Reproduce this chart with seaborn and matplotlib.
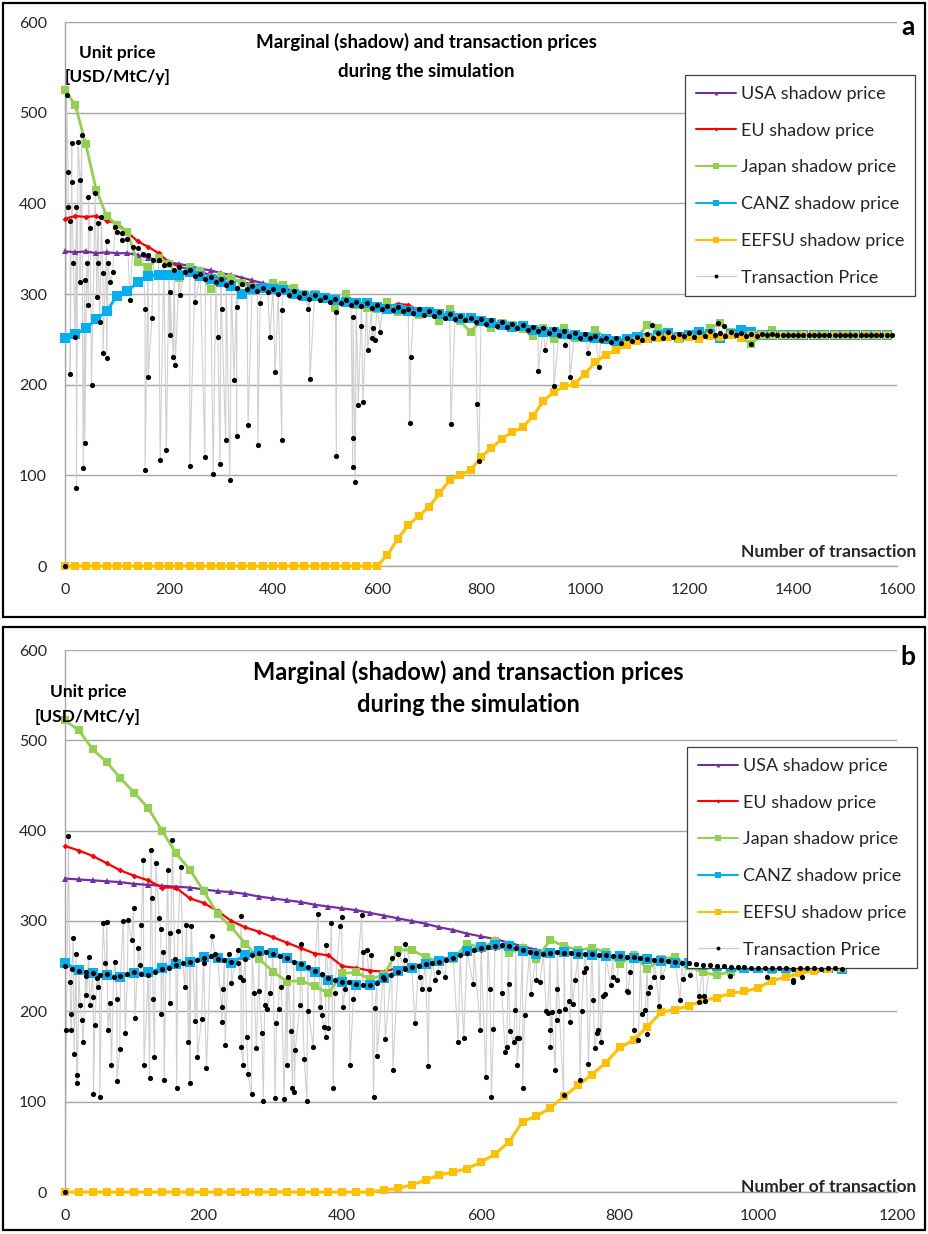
import numpy as np
import matplotlib
matplotlib.use("Agg")
import matplotlib.pyplot as plt
from matplotlib.lines import Line2D
from matplotlib.patches import Rectangle
import seaborn as sns

# ---------------- panel a : shadow prices (every 20 transactions) ----------------
x_a = np.arange(0, 1600, 20)
usa_a = [347, 346, 347, 345, 346, 345, 345, 343, 340, 337,
         335, 333, 331, 328, 326, 323, 321, 318, 315, 312,
         309, 306, 304, 301, 299, 296, 294, 292, 290, 289,
         287, 285, 284, 283, 281, 279, 278, 276, 274, 272,
         270, 268, 267, 265, 263, 262, 260, 259, 257, 256,
         255, 253, 251, 250, 250, 251, 253, 254, 254, 255] + [255] * 20
eu_a = [383, 386, 385, 386, 381, 378, 368, 358, 352, 345,
        335, 330, 327, 324, 321, 318, 316, 313, 311, 309,
        307, 305, 303, 301, 299, 296, 294, 292, 290, 289,
        287, 286, 289, 288, 282, 279, 278, 276, 274, 272,
        270, 268, 267, 265, 263, 262, 260, 259, 257, 256,
        255, 253, 251, 250, 250, 251, 253, 254, 254, 255] + [255] * 20
japan_a = [525, 508, 465, 415, 386, 376, 368, 335, 330, 340,
           333, 318, 330, 325, 305, 320, 318, 312, 308, 306,
           312, 310, 307, 300, 300, 296, 285, 300, 288, 285,
           283, 291, 280, 282, 277, 280, 270, 283, 270, 258,
           271, 262, 268, 266, 261, 254, 263, 250, 262, 252,
           253, 260, 252, 249, 250, 252, 266, 262, 256, 250,
           256, 253, 262, 268, 258, 252, 245, 255, 260, 255] + [255] * 10
canz_a = [252, 256, 262, 272, 281, 298, 303, 313, 320, 321,
          321, 321, 324, 320, 316, 313, 309, 300, 305, 307,
          306, 304, 300, 298, 298, 296, 293, 291, 290, 290,
          286, 284, 283, 281, 280, 280, 278, 276, 274, 274,
          270, 268, 266, 264, 265, 260, 258, 258, 256, 255,
          253, 252, 250, 248, 250, 253, 252, 255, 257, 253,
          255, 258, 256, 252, 256, 260, 258, 255, 255, 255] + [255] * 10
eefsu_a = [0] * 31 + [12, 30, 45, 55, 65, 80, 95, 100, 106, 120,
                      130, 140, 148, 153, 165, 182, 192, 198, 201, 212,
                      225, 233, 238, 244, 248, 250, 251, 253, 252, 253,
                      250, 254, 253, 255, 252, 255, 255, 255, 255] + [255] * 10

# panel a : transaction prices, the dense band (every 10) and the scattered deals
band_a_x = np.arange(100, 1600, 10)
band_a = [368, 360, 361, 352, 351, 344, 343, 337, 338, 332,
          333, 327, 330, 324, 327, 320, 322, 316, 319, 313,
          316, 310, 313, 307, 311, 305, 309, 303, 307, 302,
          306, 300, 304, 299, 303, 297, 301, 295, 299, 293,
          297, 291, 295, 290, 293, 288, 291, 287, 290, 285,
          288, 283, 287, 282, 286, 281, 284, 279, 283, 277,
          281, 276, 280, 274, 278, 272, 276, 271, 274, 269,
          272, 267, 271, 265, 269, 264, 267, 262, 266, 260,
          264, 259, 262, 257, 261, 255, 259, 254, 257, 252,
          256, 251, 254, 249, 252, 247, 251, 246, 252, 248,
          253, 249, 256, 251, 257, 252, 258, 253, 256, 254,
          257, 253, 258, 254, 259, 255, 257, 254, 258, 255,
          257, 254, 256, 254, 256, 255, 256, 255, 255, 255] + [255] * 20
deal_a_x = [0, 3, 6, 6, 10, 10, 13, 13, 16, 19, 22, 22, 25, 29, 29, 32, 35, 38, 38, 42,
            45, 45, 48, 51, 58, 61, 64, 64, 67, 70, 73, 73, 80, 80, 83, 87, 92, 96,
            109, 125, 154, 154, 160, 167, 183, 195, 202, 202, 208, 212, 221, 240, 250,
            269, 285, 294, 298, 301, 309, 317, 325, 330, 330, 352, 371, 375, 394, 404,
            417, 417, 467, 471, 522, 522, 553, 553, 554, 558, 564, 569, 573, 582, 590,
            593, 596, 606, 663, 665, 742, 792, 796, 910, 923, 940, 962, 971, 1006, 1027,
            1128, 1255, 1268, 1320]
deal_a = [0, 519, 435, 396, 380, 212, 466, 424, 334, 253, 396, 86, 468, 426, 313, 475, 108, 315, 136, 334,
          288, 407, 373, 200, 411, 297, 378, 334, 269, 385, 323, 235, 359, 229, 334, 313, 324, 374,
          367, 293, 284, 106, 209, 273, 117, 128, 255, 302, 231, 222, 299, 110, 291,
          120, 102, 253, 113, 284, 139, 95, 205, 143, 286, 155, 133, 290, 253, 214,
          139, 282, 284, 206, 121, 280, 141, 109, 275, 93, 178, 265, 181, 238, 251,
          262, 249, 258, 158, 230, 157, 179, 116, 215, 238, 198, 244, 208, 235, 219,
          266, 268, 265, 245]

# ---------------- panel b : shadow prices (every 20 transactions) ----------------
x_b = np.arange(0, 1121, 20)
usa_b = [347, 346, 345, 344, 343, 341, 340, 339, 338, 337,
         335, 333, 332, 330, 327, 325, 323, 321, 318, 316,
         314, 312, 309, 306, 303, 300, 297, 293, 290, 286,
         283, 280, 276, 272, 268, 265, 264, 263, 262, 261,
         259, 258, 256, 255, 254, 252, 251, 250, 250, 249,
         249, 248, 248, 248, 248, 248, 248]
eu_b = [383, 378, 372, 364, 356, 350, 345, 337, 337, 325,
        320, 311, 300, 293, 288, 282, 276, 270, 264, 262,
        250, 248, 245, 244, 248, 250, 253, 257, 261, 265,
        268, 270, 271, 268, 266, 265, 265, 263, 262, 261,
        261, 259, 258, 257, 255, 254, 252, 251, 250, 250,
        249, 249, 248, 248, 248, 248, 248]
japan_b = [522, 511, 490, 476, 458, 442, 425, 400, 375, 357,
           333, 308, 293, 275, 258, 244, 233, 234, 228, 220,
           242, 243, 236, 240, 268, 268, 260, 255, 258, 275,
           270, 278, 265, 270, 258, 279, 272, 268, 270, 266,
           252, 262, 247, 258, 260, 250, 243, 240, 244, 248,
           250, 246, 250, 252, 249, 250, 248]
canz_b = [253, 246, 242, 240, 238, 242, 243, 248, 252, 255,
          260, 259, 254, 262, 267, 265, 259, 250, 243, 235,
          232, 229, 229, 237, 245, 248, 252, 256, 260, 267,
          271, 273, 272, 267, 264, 265, 266, 264, 262, 261,
          261, 259, 258, 256, 254, 253, 251, 250, 249, 248,
          248, 248, 248, 248, 248, 248, 247]
eefsu_b = [0] * 23 + [2, 4, 8, 13, 19, 22, 26, 33, 42, 55,
                      78, 84, 93, 106, 118, 130, 143, 160, 168, 183,
                      199, 202, 206, 212, 215, 220, 222, 226, 234, 238,
                      242, 245, 247, 248]

# panel b : transaction prices
band_b_x = np.arange(0, 1121, 10)
band_b = [250, 247, 245, 244, 242, 240, 241, 238, 239, 241,
          243, 241, 240, 244, 247, 248, 251, 253, 255, 257,
          259, 261, 258, 257, 255, 254, 258, 262, 265, 266,
          264, 261, 259, 255, 252, 249, 245, 241, 237, 235,
          233, 232, 230, 229, 229, 231, 236, 240, 244, 247,
          249, 250, 252, 254, 255, 257, 259, 262, 265, 268,
          270, 271, 272, 273, 272, 270, 268, 266, 265, 264,
          265, 266, 265, 265, 264, 263, 263, 262, 262, 261,
          261, 260, 260, 259, 258, 257, 257, 256, 255, 254,
          253, 252, 251, 251, 250, 250, 249, 249, 249, 248,
          248, 248, 248, 248, 248, 247, 248, 248, 248, 247,
          248, 248, 247]
deal_b_x = [0, 2, 5, 7, 8, 9, 12, 13, 16, 17, 18, 22, 24, 26, 31, 31, 34, 36, 41, 41,
            43, 46, 48, 50, 55, 58, 60, 62, 65, 67, 72, 75, 75, 79, 84, 87, 91, 96, 99,
            101, 106, 108, 110, 113, 114, 122, 124, 125, 127, 129, 131, 136, 138, 139,
            142, 143, 148, 151, 151, 155, 158, 161, 163, 167, 173, 175, 178, 180, 182,
            188, 191, 197, 200, 204, 212, 216, 226, 226, 228, 231, 236, 240, 249, 252,
            254, 254, 257, 257, 262, 264, 269, 273, 276, 280, 284, 286, 288, 292, 296,
            303, 305, 308, 312, 316, 320, 322, 326, 328, 331, 332, 339, 340, 345, 349,
            351, 358, 365, 368, 370, 374, 376, 376, 380, 384, 387, 389, 397, 399, 401,
            404, 411, 416, 428, 430, 435, 442, 445, 447, 450, 459, 462, 471, 473, 481,
            490, 490, 505, 512, 515, 524, 525, 534, 538, 548, 567, 575, 589, 599, 607,
            613, 615, 618, 630, 635, 637, 640, 642, 647, 649, 652, 652, 655, 660, 663,
            672, 680, 685, 694, 696, 700, 700, 702, 707, 709, 709, 713, 719, 721, 727,
            729, 732, 736, 743, 745, 748, 752, 755, 762, 764, 767, 769, 773, 776, 779,
            787, 791, 796, 810, 812, 815, 820, 827, 832, 837, 840, 841, 844, 849, 857,
            861, 887, 892, 901, 914, 915, 921, 923, 959, 1012, 1050, 1050, 1063]
deal_b = [0, 179, 394, 232, 197, 179, 281, 153, 263, 121, 129, 207, 190, 166, 239, 218, 260, 207, 216, 108,
          185, 237, 227, 105, 298, 253, 299, 179, 209, 141, 255, 214, 123, 158, 300, 176, 301, 279, 314,
          193, 270, 251, 296, 367, 141, 126, 379, 326, 214, 150, 364, 303, 291, 197,
          266, 124, 356, 287, 209, 390, 258, 115, 289, 360, 227, 296, 166, 121, 294,
          189, 150, 192, 253, 137, 283, 264, 205, 188, 225, 163, 264, 231, 268, 238,
          306, 160, 141, 235, 172, 131, 108, 220, 159, 222, 176, 101, 207, 203, 220,
          104, 187, 203, 227, 103, 141, 238, 178, 115, 111, 157, 207, 275, 147, 101,
          200, 160, 308, 205, 196, 183, 172, 273, 182, 298, 115, 220, 294, 304, 205,
          225, 141, 214, 307, 266, 268, 262, 105, 204, 151, 238, 169, 259, 135, 264,
          257, 275, 187, 238, 225, 139, 225, 235, 244, 238, 166, 171, 230, 179, 127,
          225, 105, 180, 220, 155, 160, 230, 178, 166, 201, 170, 141, 171, 115, 196,
          219, 235, 233, 200, 198, 179, 161, 199, 135, 225, 190, 200, 107, 203, 211,
          188, 208, 235, 124, 200, 243, 248, 142, 213, 159, 176, 179, 166, 217, 219,
          229, 238, 235, 222, 221, 244, 179, 168, 197, 201, 175, 220, 227, 238, 206,
          238, 213, 236, 240, 210, 217, 217, 211, 239, 238, 235, 233, 238]

SERIES = ["USA shadow price", "EU shadow price", "Japan shadow price",
          "CANZ shadow price", "EEFSU shadow price"]
COLORS = ["#7030A0", "#FF0000", "#92D050", "#00B0F0", "#FFC000"]
MARKERS = ["^", "D", "s", "s", "s"]
MSIZE = [4, 3, 6, 6.5, 6]
LW = [1.6, 1.6, 2.0, 2.0, 2.2]
GRID = "#A6A6A6"
FONT = ["Lato", "DejaVu Sans"]

W, H = 929, 1234


def fx(px):
    return px / W


def fy(py):
    return 1 - py / H


def draw_panel(fig, rect, x, shadow, tx_x, tx_y, xmax, leg_xy):
    ax = fig.add_axes(rect)

    # transaction price: thin grey connecting line under everything, dots on top
    order = np.argsort(tx_x, kind="stable")
    tx_x = np.asarray(tx_x)[order]
    tx_y = np.asarray(tx_y)[order]
    sns.lineplot(x=tx_x, y=tx_y, ax=ax, estimator=None, sort=False,
                 color="#D0D0D0", lw=0.8, zorder=2)

    for vals, c, m, ms, lw in zip(shadow, COLORS, MARKERS, MSIZE, LW):
        sns.lineplot(x=x, y=vals, ax=ax, estimator=None, color=c, lw=lw,
                     marker=m, markersize=ms, markeredgewidth=0, zorder=3,
                     clip_on=False)

    sns.scatterplot(x=tx_x, y=tx_y, ax=ax, color="black", s=14, linewidth=0,
                    zorder=6, clip_on=False)

    ax.set_xlim(0, xmax)
    ax.set_ylim(0, 600)
    ax.set_xticks(range(0, xmax + 1, 200))
    ax.set_yticks(range(0, 601, 100))
    ax.set_xlabel("")
    ax.set_ylabel("")
    ax.yaxis.grid(True, color=GRID, lw=1)
    ax.xaxis.grid(False)
    ax.set_axisbelow(True)
    for s in ["top", "right"]:
        ax.spines[s].set_visible(False)
    for s in ["left", "bottom"]:
        ax.spines[s].set_color(GRID)
        ax.spines[s].set_linewidth(1)
    ax.tick_params(axis="both", colors=GRID, labelcolor="#262626",
                   labelsize=11.5, length=4, width=1, direction="out")
    ax.tick_params(axis="x", pad=8)
    ax.tick_params(axis="y", pad=9)

    handles = [Line2D([], [], color=c, lw=1.5, marker=m, markersize=ms * 0.7,
                      markeredgewidth=0)
               for c, m, ms in zip(COLORS, MARKERS, MSIZE)]
    handles.append(Line2D([], [], color="#CFCFCF", lw=1, marker="o",
                          markersize=2.8, markerfacecolor="black",
                          markeredgewidth=0))
    leg = ax.legend(handles, SERIES + ["Transaction Price"], loc="upper left",
                    bbox_to_anchor=(fx(leg_xy[0]), fy(leg_xy[1])),
                    bbox_transform=fig.transFigure, borderaxespad=0,
                    frameon=True, fancybox=False, framealpha=1,
                    edgecolor="#404040", fontsize=13, numpoints=1,
                    handlelength=2.2, handletextpad=0.3, labelspacing=1.15,
                    borderpad=0.6)
    leg.get_frame().set_linewidth(0.9)
    return ax


sns.set_style("white")
plt.rcParams["font.family"] = FONT

fig = plt.figure(figsize=(W / 100, H / 100), dpi=100)

# panel frames
fig.add_artist(Rectangle((fx(3), fy(617)), 922 / W, 614 / H, transform=fig.transFigure,
                         fill=False, ec="black", lw=1.6))
fig.add_artist(Rectangle((fx(3), fy(1230)), 922 / W, 603 / H, transform=fig.transFigure,
                         fill=False, ec="black", lw=1.6))

draw_panel(fig, [fx(65), fy(566), 832 / W, 544 / H], x_a,
           [usa_a, eu_a, japan_a, canz_a, eefsu_a],
           np.concatenate([band_a_x, deal_a_x]), np.concatenate([band_a, deal_a]),
           1600, (685, 75))
draw_panel(fig, [fx(65), fy(1192), 832 / W, 542 / H], x_b,
           [usa_b, eu_b, japan_b, canz_b, eefsu_b],
           np.concatenate([band_b_x, deal_b_x]), np.concatenate([band_b, deal_b]),
           1200, (687, 747))

# titles and annotations
bold = dict(fontweight="bold", color="black", ha="center", va="center")
fig.text(fx(426), fy(42), "Marginal (shadow) and transaction prices", fontsize=13.5, **bold)
fig.text(fx(426), fy(71), "during the simulation", fontsize=13.5, **bold)
fig.text(fx(468), fy(672), "Marginal (shadow) and transaction prices", fontsize=17, **bold)
fig.text(fx(468), fy(705), "during the simulation", fontsize=17, **bold)

fig.text(fx(117), fy(53), "Unit price", fontsize=12.5, **bold)
fig.text(fx(118), fy(77), "[USD/MtC/y]", fontsize=12.5, **bold)
fig.text(fx(88), fy(692), "Unit price", fontsize=12.5, **bold)
fig.text(fx(88), fy(717), "[USD/MtC/y]", fontsize=12.5, **bold)

fig.text(fx(916), fy(552), "Number of transaction", fontsize=12.5, fontweight="bold",
         ha="right", va="center")
fig.text(fx(916), fy(1187), "Number of transaction", fontsize=12.5, fontweight="bold",
         ha="right", va="center")

fig.text(fx(908), fy(27), "a", fontsize=19, **bold)
fig.text(fx(908), fy(657), "b", fontsize=19, **bold)

fig.savefig("out.png", dpi=100)
